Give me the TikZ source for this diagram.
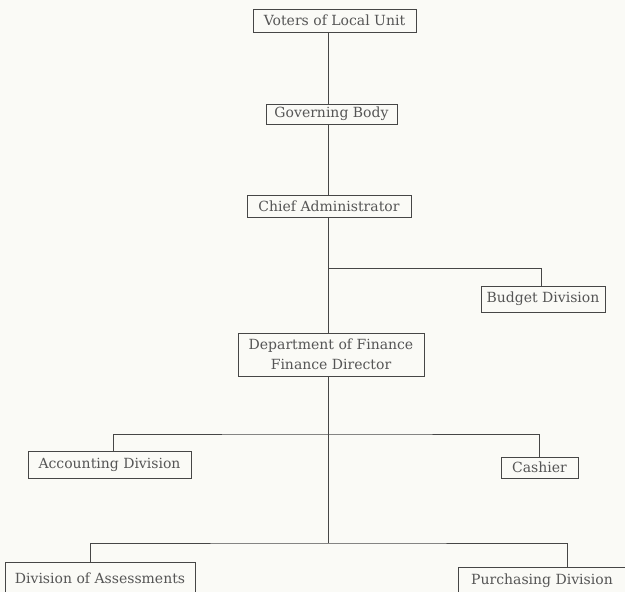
\documentclass[tikz,border=0pt]{standalone}
\usepackage{fontspec}
\setmainfont{DejaVu Serif}
\definecolor{paper}{RGB}{250,250,246}
\definecolor{ink}{RGB}{70,70,70}
\definecolor{type}{RGB}{85,85,85}
\tikzset{
  unit/.style = {shape = rectangle, draw = ink, line width = 1pt, inner sep = 0pt,
                 text = type, font = \fontsize{14}{20}\selectfont, align = center},
  link/.style = {draw = ink, line width = 1pt}
}
\begin{document}
\begin{tikzpicture}[x = 1pt, y = -1pt]
        \fill[paper] (0, 0) rectangle (625, 592);
        \useasboundingbox (0, 0) rectangle (625, 592);

        \node[unit, minimum width = 163, minimum height = 23] at (334.5,  20.5) (voters) {Voters of Local Unit};
        \node[unit, minimum width = 131, minimum height = 20] at (331.5, 114.0) (govern) {Governing Body};
        \node[unit, minimum width = 164, minimum height = 22] at (329.0, 206.0) (chief)  {Chief Administrator};

        \node[unit, minimum width = 124, minimum height = 26] at (543.0, 299.0) (budget) {Budget Division};

        \node[unit, minimum width = 186, minimum height = 43] at (331.0, 354.5) (finance)
          {Department of Finance\\Finance Director};

        \node[unit, minimum width = 163, minimum height = 27] at (109.5, 464.5) (account) {Accounting Division};
        \node[unit, minimum width =  77, minimum height = 21] at (539.5, 467.5) (cashier) {Cashier};

        \node[unit, minimum width = 190, minimum height = 32] at (100.0, 578.0) (assess) {Division of Assessments};
        \node[unit, minimum width = 168, minimum height = 28] at (542.0, 581.0) (purch)  {Purchasing Division};

        % ------------------------------------------------------------------------
        % Lines
        \coordinate (spine) at (328, 0);
        \coordinate (j1) at (328, 268);
        \coordinate (j2) at (328, 434);
        \coordinate (j3) at (328, 543);

        \draw[link]
          (voters.south -| spine) -- (govern.north -| spine)
          (govern.south -| spine) -- (chief.north -| spine)
          (chief.south -| spine) -- (finance.north -| spine)
          (finance.south -| spine) -- (j3)
        ;
        \draw[link]
          (j1) -| ([xshift = -2]budget.north)
          ([xshift = 3.5]account.north) |- (j2) -| (cashier.north)
          ([xshift = -10]assess.north) |- (j3) -| ([xshift = 25]purch.north)
        ;
\end{tikzpicture}
\end{document}
